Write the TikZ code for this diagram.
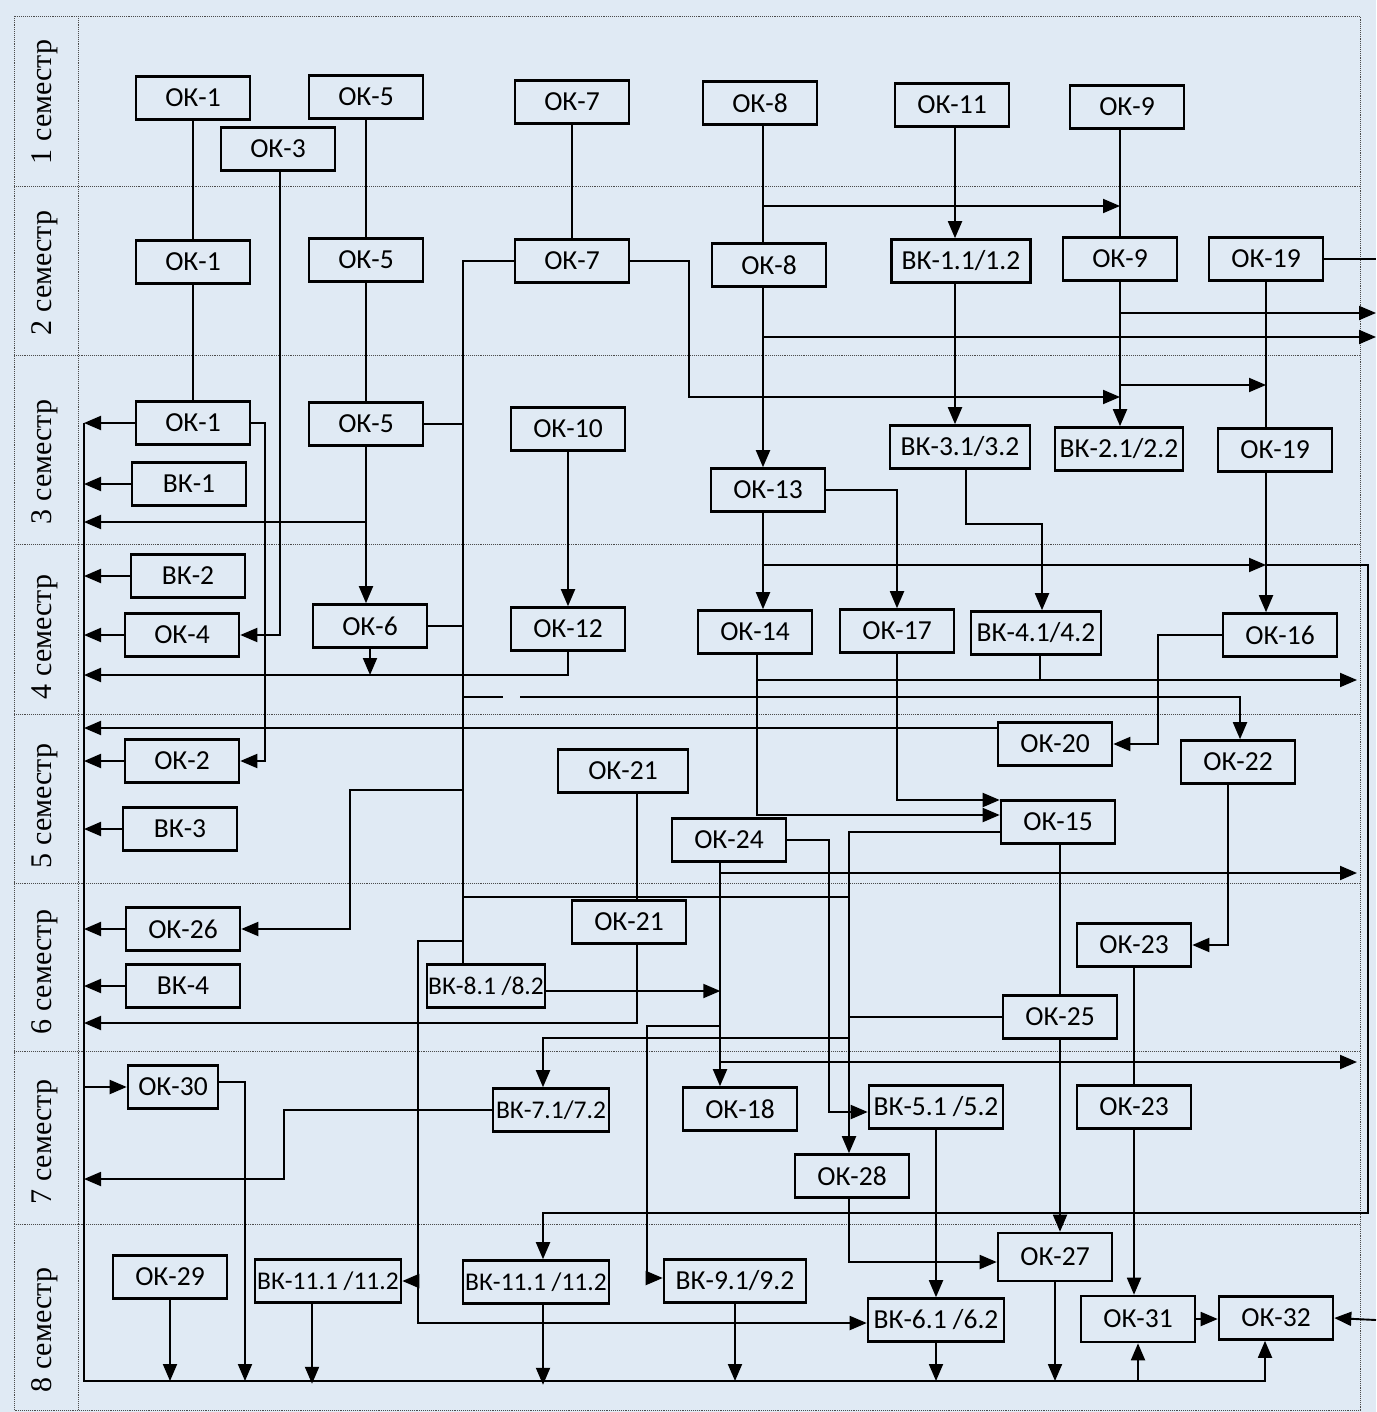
\documentclass[tikz,border=0pt]{standalone}
\usepackage{fontspec}
\setmainfont{Carlito}
\newfontfamily\semfont{Liberation Serif}
\usetikzlibrary{arrows.meta}
\definecolor{scanblue}{RGB}{224,234,244}
\tikzstyle{kbox}=[draw,line width=2.6pt,minimum width=114pt,minimum height=43pt,inner sep=1pt,font=\fontsize{27.5}{30}\selectfont]
\tikzstyle{widebox}=[kbox,font=\fontsize{25.5}{30}\selectfont]
\tikzstyle{semlab}=[rotate=90,font=\semfont\fontsize{30}{32}\selectfont]
\tikzstyle{gridline}=[line width=0.9pt,black!70,densely dotted]
\tikzstyle{cgraph}=[line width=1.9pt,>={Triangle[length=17pt,width=14pt]}]

\begin{document}
\begin{tikzpicture}[x=1pt,y=-1pt,cgraph]
\fill[scanblue] (0,0) rectangle (1376,1412);
\useasboundingbox (0,0) rectangle (1376,1412);
\draw[gridline] (14,16) rectangle (1360,1410);
\draw[gridline] (78,16) -- (78,1410);
\foreach \y in {186,355,544,714,883,1051,1224} \draw[gridline] (14,\y) -- (1360,\y);
\foreach \n/\y in {1/102,2/273,3/462,4/637,5/806,6/972,7/1142,8/1330}
  \node[semlab] (sem\n) at (45,\y) {\n\ семестр};

% 1 семестр
\node[kbox] (ok1a) at (193,98) {ОК-1};
\node[kbox] (ok5a) at (366,97) {ОК-5};
\node[kbox] (ok3) at (278,149) {ОК-3};
\node[kbox] (ok7a) at (572,102) {ОК-7};
\node[kbox] (ok8a) at (760,103) {ОК-8};
\node[kbox] (ok11) at (952,105) {ОК-11};
\node[kbox] (ok9a) at (1127,107) {ОК-9};
% 2 семестр
\node[kbox] (ok1b) at (193,262) {ОК-1};
\node[kbox] (ok5b) at (366,260) {ОК-5};
\node[kbox] (ok7b) at (572,261) {ОК-7};
\node[kbox] (ok8b) at (769,265) {ОК-8};
\node[kbox,minimum width=139pt] (vk1x) at (961,261) {ВК-1.1/1.2};
\node[kbox] (ok9b) at (1120,259) {ОК-9};
\node[kbox] (ok19a) at (1266,259) {ОК-19};
% 3 семестр
\node[kbox] (ok1c) at (193,423) {ОК-1};
\node[kbox] (ok5c) at (366,424) {ОК-5};
\node[kbox] (ok10) at (568,429) {ОК-10};
\node[kbox] (vk1) at (189,484) {ВК-1};
\node[kbox,minimum width=140pt] (vk3x) at (960,447) {ВК-3.1/3.2};
\node[kbox,minimum width=128pt] (vk2x) at (1119,449) {ВК-2.1/2.2};
\node[kbox] (ok19b) at (1275,450) {ОК-19};
\node[kbox] (ok13) at (768,490) {ОК-13};
% 4 семестр
\node[kbox] (vk2) at (188,576) {ВК-2};
\node[kbox] (ok4) at (182,635) {ОК-4};
\node[kbox] (ok6) at (370,626) {ОК-6};
\node[kbox] (ok12) at (568,629) {ОК-12};
\node[kbox] (ok14) at (755,632) {ОК-14};
\node[kbox] (ok17) at (897,631) {ОК-17};
\node[kbox,minimum width=130pt] (vk4x) at (1036,633) {ВК-4.1/4.2};
\node[kbox] (ok16) at (1280,635) {ОК-16};
% 5 семестр
\node[kbox] (ok20) at (1055,744) {ОК-20};
\node[kbox] (ok22) at (1238,762) {ОК-22};
\node[kbox] (ok2) at (182,761) {ОК-2};
\node[kbox] (vk3) at (180,829) {ВК-3};
\node[kbox,minimum width=130pt] (ok21a) at (623,771) {ОК-21};
\node[kbox] (ok24) at (729,840) {ОК-24};
\node[kbox] (ok15) at (1058,822) {ОК-15};
% 6 семестр
\node[kbox] (ok26) at (183,929) {ОК-26};
\node[kbox] (vk4) at (183,986) {ВК-4};
\node[kbox] (ok21b) at (629,922) {ОК-21};
\node[kbox] (ok23a) at (1134,945) {ОК-23};
\node[widebox,minimum width=118pt] (vk8) at (486,986) {ВК-8.1 /8.2};
\node[kbox] (ok25) at (1060,1017) {ОК-25};
% 7 семестр
\node[kbox,minimum width=90pt] (ok30) at (173,1087) {ОК-30};
\node[widebox,minimum width=116pt] (vk7) at (551,1110) {ВК-7.1/7.2};
\node[kbox] (ok18) at (740,1109) {ОК-18};
\node[kbox,minimum width=134pt] (vk5) at (936,1107) {ВК-5.1 /5.2};
\node[kbox] (ok23b) at (1134,1107) {ОК-23};
\node[kbox] (ok28) at (852,1176) {ОК-28};
% 8 семестр
\node[kbox] (ok29) at (170,1277) {ОК-29};
\node[widebox,minimum width=146pt] (vk11a) at (328,1281) {ВК-11.1 /11.2};
\node[widebox,minimum width=146pt] (vk11b) at (536,1282) {ВК-11.1 /11.2};
\node[kbox,minimum width=142pt] (vk9) at (735,1281) {ВК-9.1/9.2};
\node[kbox,minimum width=136pt] (vk6) at (936,1320) {ВК-6.1 /6.2};
\node[kbox,minimum height=48pt] (ok27) at (1055,1257) {ОК-27};
\node[kbox,minimum height=46pt] (ok31) at (1138,1319) {ОК-31};
\node[kbox] (ok32) at (1276,1318) {ОК-32};

% columns, buses and junctions
\coordinate (bus) at (84,423); \coordinate (busend) at (84,1381);
\coordinate (rim) at (1357,0); \coordinate (rout) at (1376,0); \coordinate (rin) at (1376,1320);
\coordinate (c8) at (763,0); \coordinate (c11) at (955,0); \coordinate (c9) at (1120,0);
\coordinate (c19) at (1266,0); \coordinate (c21) at (637,0); \coordinate (c15) at (1060,0);
\coordinate (trunk) at (463,262); \coordinate (x24) at (720,860); \coordinate (x15) at (849,832);
\coordinate (x418) at (418,941); \coordinate (x30) at (245,1381); \coordinate (loop) at (1368,1213);
\coordinate (j5) at (366,522); \coordinate (j12) at (568,675); \coordinate (j14) at (757,680);
\coordinate (j20) at (998,728); \coordinate (j21) at (637,1023); \coordinate (j9) at (720,1026);
\coordinate (j15) at (849,1038); \coordinate (j7) at (1120,397); \coordinate (j13) at (763,565);
\coordinate (j8a) at (763,206); \coordinate (j8b) at (763,337);
\coordinate (j9a) at (1120,313); \coordinate (j9b) at (1120,385);
\coordinate (g1) at (463,697); \coordinate (g2) at (463,790); \coordinate (g3) at (463,897); \coordinate (g4) at (463,941);

% left bus
\draw[->] (bus) -- (busend) -| ([xshift=-11pt]ok32.south);
\foreach \b in {ok1c,vk1,vk2,ok4,ok2,vk3,ok26,vk4} \draw[->] (\b.west) -- (\b.west -| bus);
\draw[->] (j5) -- (j5 -| bus);
\draw[->] (ok12.south) -- (j12) -- (j12 -| bus); \draw[->] (ok6.south) -- (ok6.south |- j12);
\draw[->] (j20) -- (j20 -| bus);
\draw[->] (c21 |- ok21b.south) -- (j21) -- (j21 -| bus);
\draw[->] (bus |- ok30.west) -- (ok30.west);
\draw[->] (vk7.west) -- ++(-208,0) |- (bus |- 0,1179);
\draw[->] ([yshift=5pt]ok30.east) -| (x30);

% bottom line
\foreach \b in {ok29,vk9,vk6,ok27} \draw[->] (\b.south) -- (\b.south |- busend);
\draw[->] ([xshift=-16pt]vk11a.south) -- ++(0,80);
\draw[->] ([xshift=7pt]vk11b.south) -- ++(0,80);
\draw[->] (busend -| ok31.south) -- (ok31.south);
\draw[->] (ok31.east) -- (ok31.east -| ok32.west); \draw[->] (rin) -- (ok32.east);

% chains
\draw (ok1a) -- (ok1b); \draw (ok1b) -- (ok1c);
\draw (ok5a) -- (ok5b); \draw (ok5b) -- (ok5c); \draw[->] (ok5c.south) -- (ok5c.south |- ok6.north);
\draw[->] ([xshift=2pt]ok3.south) |- (ok4.east);
\draw[->] (ok1c.east) -- ++(14,0) |- (ok2.east);
\draw (ok7a) -- (ok7b); \draw[->] (ok10) -- (ok12);
\draw (c8 |- ok8a.south) -- (c8 |- ok8b.north); \draw[->] (c8 |- ok8b.south) -- (c8 |- ok13.north);
\draw[->] (c8 |- ok13.south) -- (c8 |- ok14.north);
\draw[->] (j8a) -- (j8a -| c9); \draw[->] (j8b) -- (j8b -| rout);
\draw[->] (c11 |- ok11.south) -- (c11 |- vk1x.north); \draw[->] (c11 |- vk1x.south) -- (c11 |- vk3x.north);
\draw (c9 |- ok9a.south) -- (c9 |- ok9b.north); \draw[->] (c9 |- ok9b.south) -- (c9 |- vk2x.north);
\draw[->] (j9a) -- (j9a -| rout); \draw[->] (j9b) -- (j9b -| c19);
\draw[->] (ok7b.east) -- ++(59,0) |- (j7);
\draw (ok19a.east) -- (ok19a.east -| rout);
\draw (c19 |- ok19a.south) -- (c19 |- ok19b.north); \draw[->] (c19 |- ok19b.south) -- (c19 |- ok16.north);
\draw[->] (ok13.east) -| (ok17.north);
\draw[->] ([xshift=6pt]vk3x.south) -- ++(0,54) -| ([xshift=6pt]vk4x.north);
\draw[->] (j13) -- (j13 -| c19); \draw[->] (j13 -| c19) -| (loop) -| ([xshift=7pt]vk11b.north);
\draw[->] (j14 |- ok14.south) |- ([yshift=7pt]ok15.west); \draw[->] (j14) -- (j14 -| rim);
\draw ([xshift=4pt]vk4x.south) -- ++(0,23);
\draw[->] (ok17.south) |- ([yshift=22pt]ok15.west);
\draw[->] (ok16.west) -- ++(-64,0) |- (ok20.east);
\draw[->] ([xshift=-10pt]ok22.south) |- (ok23a.east);
\draw (ok23a) -- (ok23b); \draw[->] (ok23b.south) -- (ok23b.south |- ok31.north);
\draw (c15 |- ok15.south) -- (c15 |- ok25.north); \draw[->] (c15 |- ok25.south) -- (c15 |- ok27.north);

% trunk
\draw (ok7b.west) -| ([xshift=-23pt]vk8.north);
\draw (ok5c.east) -- (ok5c.east -| trunk); \draw (ok6.east) -- (ok6.east -| trunk);
\draw (g1) -- ++(40,0); \draw[->] ([xshift=57pt]g1) -| ([xshift=2pt]ok22.north);
\draw[->] (g2) -- ++(-113,0) |- (ok26.east);
\draw (g3) -- (g3 -| x15);
\draw[->] (g4) -- (x418) |- ([yshift=-3pt]vk6.west); \draw[->] (x418 |- vk11a.east) -- (vk11a.east);

% ОК-21, ОК-24, ОК-15
\draw (c21 |- ok21a.south) -- (c21 |- ok21b.north);
\draw[->] (x24) -- (x24 |- ok18.north);
\draw[->] ([yshift=-5pt]vk8.east) -- ++(174,0);
\draw[->] (x24 |- 0,873) -- (rim |- 0,873); \draw[->] (x24 |- 0,1062) -- (rim |- 0,1062);
\draw[->] (j9) -- ++(-73,0) |- ([yshift=3pt]vk9.west);
\draw[->] (ok24.east) -- ++(42,0) |- ([yshift=-5pt]vk5.west);
\draw[->] ([yshift=-10pt]ok15.west) -| ([xshift=-3pt]ok28.north);
\draw (ok25.west) -- (ok25.west -| x15);
\draw[->] (j15) -| ([xshift=-8pt]vk7.north);
\draw[->] (vk5) -- (vk6);
\draw[->] ([xshift=-3pt]ok28.south) |- ([yshift=-5pt]ok27.west);
\end{tikzpicture}
\end{document}
